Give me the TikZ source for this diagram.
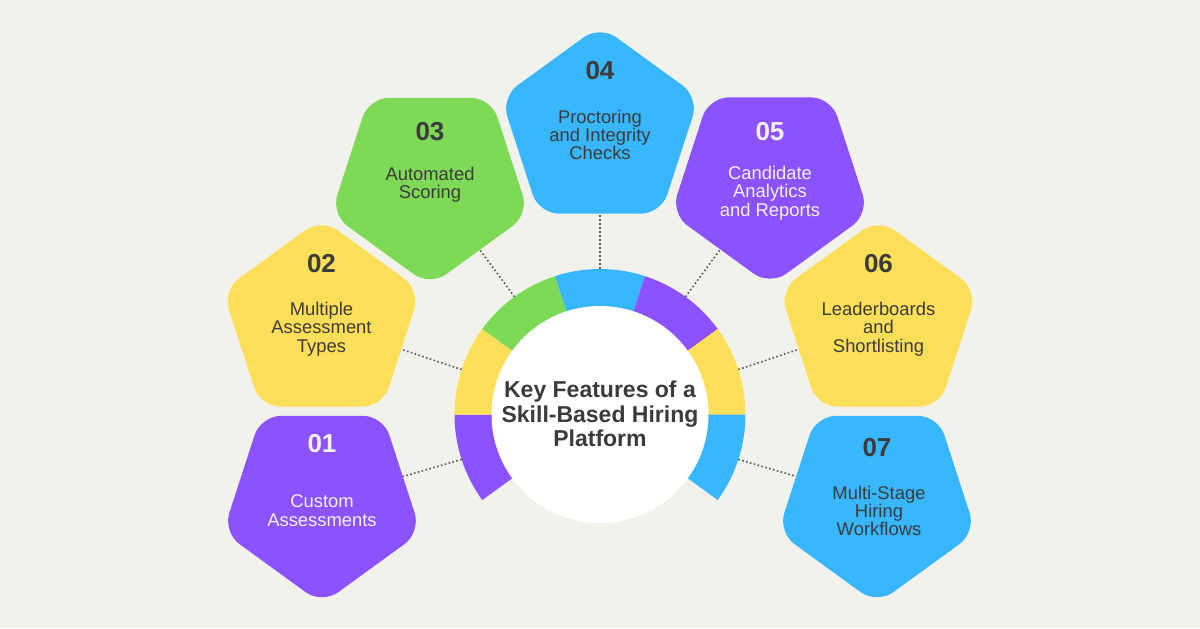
\documentclass[tikz,border=0pt]{standalone}
\usepackage{fontspec}
\setmainfont{Liberation Sans}
\usetikzlibrary{shapes.geometric}
\definecolor{bg}{HTML}{F2F2EC}
\definecolor{cpurple}{HTML}{8C52FF}
\definecolor{cyellow}{HTML}{FFDE59}
\definecolor{cgreen}{HTML}{7ED957}
\definecolor{cblue}{HTML}{38B6FF}
\definecolor{ink}{HTML}{3B3B3B}
\definecolor{lite}{HTML}{F4F1FF}
\begin{document}
\begin{tikzpicture}[x=0.5pt,y=0.5pt,
  pent/.style={regular polygon, regular polygon sides=5, minimum size=104pt,
    inner sep=0pt, outer sep=0pt, rounded corners=10pt, draw=none},
  down/.style={shape border rotate=180},
  num/.style={font=\bfseries\fontsize{13}{13}\selectfont, text=ink, inner sep=0pt},
  lab/.style={font=\fontsize{9.2}{9.2}\selectfont, align=center, text=ink, inner sep=0pt},
  dotline/.style={draw=ink!85, line width=0.8pt, dash pattern=on 0.8pt off 1.2pt},
  ttl/.style={font=\bfseries\fontsize{11.5}{12.3}\selectfont, align=center, text=ink, inner sep=0pt}]
\fill[bg] (-600,-213.5) rectangle (600,414.5);
\useasboundingbox (-600,-213.5) rectangle (600,414.5);
% ring
\foreach \a/\c in {180/cpurple,144/cyellow,108/cgreen,72/cblue,36/cpurple,0/cyellow,-36/cblue}
  \fill[\c] (0,0) -- (\a:145.5) arc[start angle=\a, end angle=\a+36, radius=145.5] -- cycle;
\node[circle, fill=white, minimum size=108.5pt, inner sep=0pt] (hub) at (0,0) {};
\node[ttl] (title) at (0,0.5) {Key Features of a\\Skill-Based Hiring\\Platform};
% pentagons
\node[pent, down, fill=cpurple] (p1) at (-278,-85.5) {};
\node[pent, fill=cyellow] (p2) at (-278.5,92) {};
\node[pent, down, fill=cgreen] (p3) at (-170,232.5) {};
\node[pent, fill=cblue] (p4) at (0,285) {};
\node[pent, down, fill=cpurple] (p5) at (170,233) {};
\node[pent, fill=cyellow] (p6) at (278.5,92) {};
\node[pent, down, fill=cblue] (p7) at (277,-85.5) {};
% connectors
\coordinate (c1) at (198:145.5);
\coordinate (c2) at (162:145.5);
\coordinate (c3) at (126:145.5);
\coordinate (c4) at (90:145.5);
\coordinate (c5) at (54:145.5);
\coordinate (c6) at (18:145.5);
\coordinate (c7) at (-18:145.5);
\foreach \i in {1,...,7} \draw[dotline] (c\i) -- (p\i);
% texts
\node[num, text=lite] (n1) at (-278,-29.5) {01};
\node[lab, text=lite] (l1) at (-278,-96) {Custom\\Assessments};
\node[num] (n2) at (-278.5,150.8) {02};
\node[lab] (l2) at (-278.5,85.5) {Multiple\\Assessment\\Types};
\node[num] (n3) at (-170,283) {03};
\node[lab] (l3) at (-170,229.5) {Automated\\Scoring};
\node[num] (n4) at (0,344) {04};
\node[lab] (l4) at (0,279.5) {Proctoring\\and Integrity\\Checks};
\node[num, text=lite] (n5) at (170,283) {05};
\node[lab, text=lite] (l5) at (170,221.5) {Candidate\\Analytics\\and Reports};
\node[num] (n6) at (278.5,150.5) {06};
\node[lab] (l6) at (278.5,85.5) {Leaderboards\\and\\Shortlisting};
\node[num] (n7) at (277,-33.5) {07};
\node[lab] (l7) at (279,-96.5) {Multi-Stage\\Hiring\\Workflows};
\end{tikzpicture}
\end{document}
